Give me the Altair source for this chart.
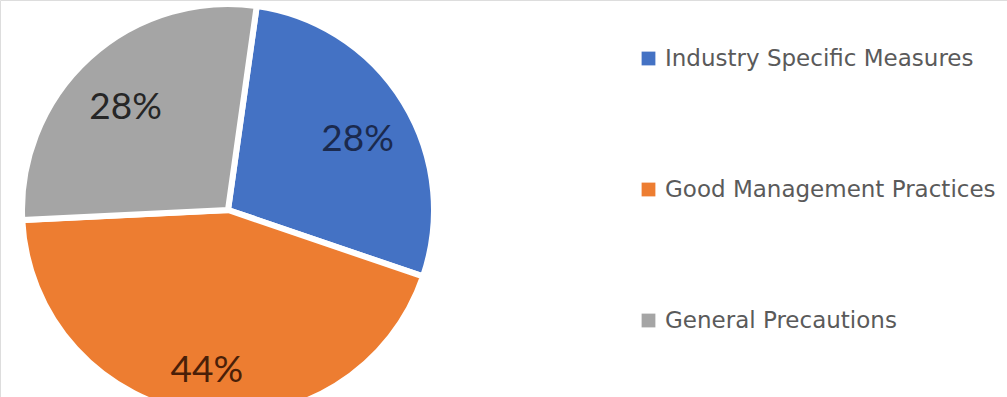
import altair as alt
import pandas as pd

categories = ["Industry Specific Measures", "Good Management Practices", "General Precautions"]
values = [28, 44, 28]
colors = ["#4472C4", "#ED7D31", "#A5A5A5"]
label_colors = ["#1B2A4E", "#4A1F08", "#262626"]

df = pd.DataFrame({
    "category": categories,
    "value": values,
    "order": list(range(len(categories))),
    "label": [f"{v}%" for v in values],
    "lcolor": label_colors,
})

start = 0.14
theta = alt.Theta("value:Q", stack=True, scale=alt.Scale(range=[start, start + 6.283185307]))

base = alt.Chart(df).encode(
    theta=theta,
    order=alt.Order("order:Q"),
    x=alt.value(228),
    y=alt.value(210),
)

arcs = base.mark_arc(outerRadius=206, stroke="white", strokeWidth=6).encode(
    color=alt.Color(
        "category:N",
        sort=categories,
        scale=alt.Scale(domain=categories, range=colors),
        legend=alt.Legend(
            title=None,
            orient="none",
            legendX=637,
            legendY=47,
            symbolType="square",
            symbolSize=190,
            symbolStrokeWidth=0,
            labelFontSize=23,
            labelFont="DejaVu Sans",
            labelColor="#5a5a5a",
            labelLimit=0,
            rowPadding=107,
            labelOffset=5,
        ),
    )
)

labels = base.mark_text(radius=152, fontSize=37, font="Lato", dy=10).encode(
    text="label:N",
    color=alt.Color("lcolor:N", scale=None),
)

chart = (
    alt.layer(arcs, labels)
    .resolve_scale(color="independent")
    .properties(width=1007, height=397, autosize=alt.AutoSizeParams(type="none"), padding=0)
    .configure_view(stroke=None)
    .configure(background="white")
)

chart.save("out.html", embed_options={"renderer": "svg", "actions": False})
